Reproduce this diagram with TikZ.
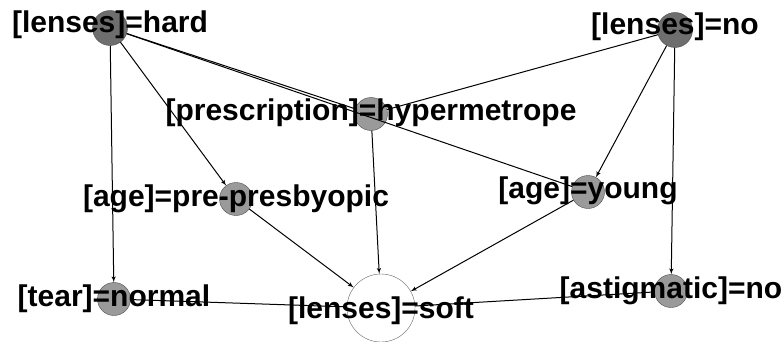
\documentclass[tikz,border=0pt]{standalone}
\usepackage{fontspec}
\setmainfont{Liberation Sans}
\usepackage{tikz}
\usetikzlibrary{shapes,arrows,arrows.meta}
\definecolor{darknode}{HTML}{6E6E6E}
\definecolor{lightnode}{HTML}{9A9A9A}
\tikzstyle{attr} = [circle, draw=black!70, fill=lightnode, 
    minimum size=33pt, inner sep=0pt]
\tikzstyle{lens} = [attr, fill=darknode, minimum size=35pt]
\tikzstyle{target} = [circle, draw=black!60, fill=white, 
    minimum size=68pt, inner sep=0pt]
\tikzstyle{tag} = [font=\fontsize{30}{30}\selectfont\bfseries, 
    inner sep=0pt]
\tikzstyle{line} = [draw, line width=1pt, -latex']
\tikzstyle{plain} = [draw, line width=1pt]

\begin{document}
\begin{tikzpicture}[x=1pt,y=-1pt]
    \useasboundingbox (0,0) rectangle (784,342);
    % Place nodes
    \node [lens, label={[tag,yshift=3pt]center:{[lenses]=hard}}] (hard) at (110,28) {};
    \node [lens, label={[tag,yshift=3pt]center:{[lenses]=no}}] (nolens) at (675,30) {};
    \node [attr, label={[tag,yshift=1pt]center:{[prescription]=hypermetrope}}] (presc) at (371,114) {};
    \node [attr, label={[tag]center:{[age]=pre-presbyopic}}] (prepres) at (236,199) {};
    \node [attr, label={[tag,yshift=1pt]center:{[age]=young}}] (young) at (588,192) {};
    \node [attr, label={[tag]center:{[tear]=normal}}] (normal) at (114,299) {};
    \node [attr, label={[tag]center:{[astigmatic]=no}}] (astig) at (671,291) {};
    \node [target, label={[tag,yshift=-3pt]center:{[lenses]=soft}}] (soft) at (381,308) {};

    % Draw edges
    \path [line] (hard) -- (normal);
    \path [line] (hard) -- (prepres);
    \path [plain] (hard) -- (presc);
    \path [plain] (hard) -- (young);
    \path [plain] (nolens) -- (presc);
    \path [line] (nolens) -- (young);
    \path [line] (nolens) -- (astig);
    \path [line] (presc) -- (soft);
    \path [line] (prepres) -- (soft);
    \path [line] (young) -- (soft);
    \path [plain] (normal) -- (soft);
    \path [plain] (astig) -- (soft);
\end{tikzpicture}
\end{document}
